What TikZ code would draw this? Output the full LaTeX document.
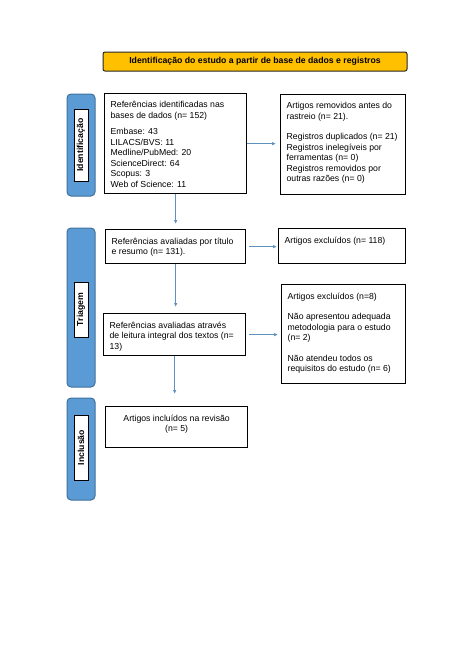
\documentclass[tikz,border=0pt]{standalone}
\usepackage{fontspec}
\setmainfont{Liberation Sans}
\usetikzlibrary{arrows.meta}
\definecolor{stageblue}{RGB}{91,155,213}
\definecolor{stageline}{RGB}{65,113,156}
\definecolor{titlegold}{RGB}{255,192,0}
\definecolor{flowblue}{RGB}{95,145,190}
\newcommand{\flowtext}[3]{\parbox[t][#2][t]{#1}{\raggedright #3}}
\tikzset{
      stage/.style={draw=stageline, fill=stageblue, line width=1pt, rounded corners=4pt, minimum width=28pt},
      stagename/.style={draw=black, fill=white, line width=0.8pt, rotate=90, inner sep=0pt, minimum height=14pt,
            font=\fontsize{8.7}{10.5}\selectfont\bfseries},
      infobox/.style={draw=black, line width=1.3pt, anchor=north west, inner xsep=6pt, inner ysep=8pt},
      flow/.style={draw=flowblue, line width=0.9pt, -{Latex[length=4pt,width=3.5pt]}},
}

\begin{document}
\begin{tikzpicture}[x=1pt, y=-1pt, every node/.style={font=\fontsize{8.7}{10.5}\selectfont}]
        \useasboundingbox (0,0) rectangle (474,670);

        % Title
        \node[draw=black!85, fill=titlegold, rounded corners=2pt, line width=1pt, minimum width=304pt, minimum height=19pt,
              font=\fontsize{8.7}{10.5}\selectfont\bfseries] (title) at (255,61.5)
              {Identificação do estudo a partir de base de dados e registros};

        % Stages
        \node[stage, minimum height=102pt] (idstage) at (81,145) {};
        \node[stagename, minimum width=72pt] (idname) at (81,145) {Identificação};
        \node[stage, minimum height=159pt] (trstage) at (81,307.5) {};
        \node[stagename, minimum width=55pt] (trname) at (81,309.5) {Triagem};
        \node[stage, minimum height=102pt] (instage) at (81,449) {};
        \node[stagename, minimum width=65pt] (inname) at (81,447.5) {Inclusão};

        % Boxes
        \node[infobox] (b1) at (104,93) {\flowtext{130pt}{84pt}{Referências identificadas nas\\
              bases de dados (n= 152)\\[6pt]
              Embase: 43\\ LILACS/BVS: 11\\ Medline/PubMed: 20\\ ScienceDirect: 64\\ Scopus: 3\\ Web of Science: 11}};
        \node[infobox] (b2) at (280,94) {\flowtext{113pt}{84pt}{Artigos removidos antes do\\
              rastreio (n= 21).\\[10pt]
              Registros duplicados (n= 21)\\ Registros inelegíveis por\\ ferramentas (n= 0)\\
              Registros removidos por\\ outras razões (n= 0)}};
        \node[infobox] (b3) at (105,229) {\flowtext{128pt}{18pt}{Referências avaliadas por título\\ e resumo (n= 131).}};
        \node[infobox] (b4) at (278,228) {\flowtext{115pt}{19pt}{Artigos excluídos (n= 118)}};
        \node[infobox] (b5) at (103,313) {\flowtext{130pt}{26pt}{Referências avaliadas através\\
              de leitura integral dos textos (n=\\ 13)}};
        \node[infobox] (b6) at (281,284) {\flowtext{112pt}{83pt}{Artigos excluídos (n=8)\\[10pt]
              Não apresentou adequada\\ metodologia para o estudo\\ (n= 2)\\[10pt]
              Não atendeu todos os\\ requisitos do estudo (n= 6)}};
        \node[infobox] (b7) at (105,406) {\parbox[t][25pt][t]{130pt}{\centering Artigos incluídos na revisão\\ (n= 5)}};

        % Arrows
        \draw[flow, shorten >=4pt] (b1.east) -- (b1.east -| b2.west);
        \draw[flow, shorten >=5pt] (b1.south) -- (b1.south |- b3.north);
        \draw[flow, shorten <=3pt, shorten >=1pt] (b3.east) -- (b3.east -| b4.west);
        \draw[flow, shorten >=6pt] (b3.south) -- (b3.south |- b5.north);
        \draw[flow, shorten <=3pt, shorten >=3pt] (b5.east) -- (b5.east -| b6.west);
        \draw[flow, shorten >=12pt] (b5.south) -- (b5.south |- b7.north);

\end{tikzpicture}
\end{document}
